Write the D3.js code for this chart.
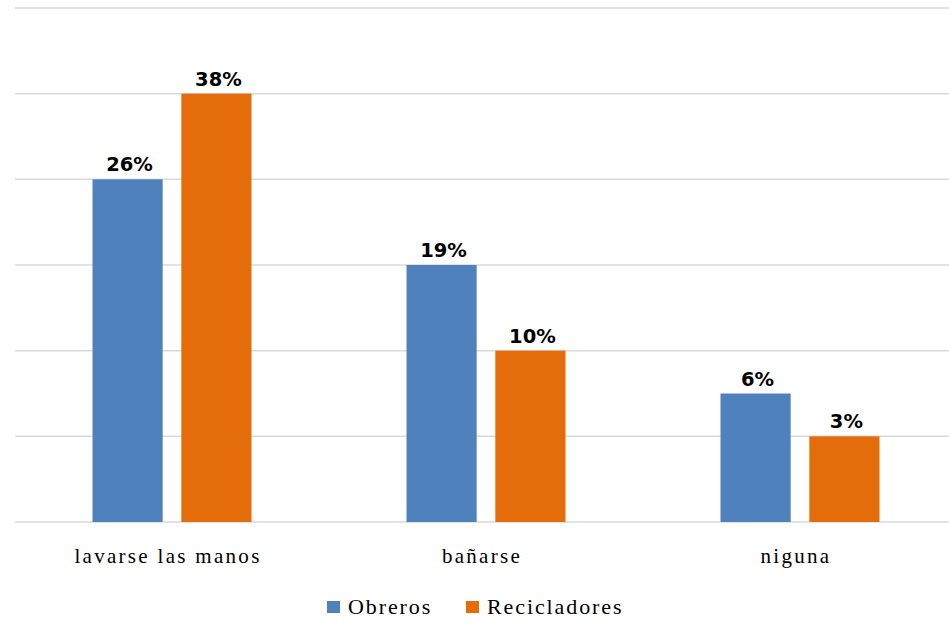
<!DOCTYPE html>
<html>
<head>
<meta charset="utf-8">
<script src="https://d3js.org/d3.v7.min.js"></script>
<style>
  body { margin: 0; background: #fff; }
  .lbl { font-family: "DejaVu Sans", Verdana, sans-serif; font-weight: bold; font-size: 19.5px; fill: #000; }
  .cat { font-family: "Liberation Serif", "Times New Roman", serif; font-size: 21px; letter-spacing: 2.3px; fill: #000; }
  .leg { font-family: "Liberation Serif", "Times New Roman", serif; font-size: 22px; letter-spacing: 1.9px; fill: #000; }
</style>
</head>
<body>
<svg id="chart" width="949" height="641"></svg>
<script>
// data
var categories = ["lavarse las manos", "bañarse", "niguna"];
var seriesNames = ["Obreros", "Recicladores"];
var obreros = [4, 3, 1.5];
var recicladores = [5, 2, 1];
var obrerosLabels = ["26%", "19%", "6%"];
var recicladoresLabels = ["38%", "10%", "3%"];
var yTicks = [0, 1, 2, 3, 4, 5, 6];
var colors = ["#4f81bd", "#e46c0a"];

var svg = d3.select("#chart");
var plotLeft = 15, plotRight = 957, plotTop = 8, plotBottom = 522;

var x = d3.scaleBand().domain(categories).range([plotLeft, plotRight]).paddingInner(0).paddingOuter(0);
var xs = d3.scaleBand().domain(seriesNames).range([77.5, x.bandwidth() - 77.5]).paddingInner(0.21);
var y = d3.scaleLinear().domain([0, 6]).range([plotBottom, plotTop]);

// grid
svg.append("g").selectAll("line")
  .data(yTicks)
  .enter().append("line")
  .attr("x1", plotLeft).attr("x2", 949)
  .attr("y1", function(d) { return y(d); })
  .attr("y2", function(d) { return y(d); })
  .attr("stroke", "#d9d9d9")
  .attr("stroke-width", 1.5);

var rows = categories.map(function(c, i) {
  return { cat: c, vals: [
    { s: seriesNames[0], v: obreros[i], l: obrerosLabels[i] },
    { s: seriesNames[1], v: recicladores[i], l: recicladoresLabels[i] }
  ]};
});

var groups = svg.append("g").selectAll("g")
  .data(rows)
  .enter().append("g")
  .attr("transform", function(d) { return "translate(" + x(d.cat) + ",0)"; });

groups.selectAll("rect")
  .data(function(d) { return d.vals; })
  .enter().append("rect")
  .attr("x", function(d) { return xs(d.s); })
  .attr("width", xs.bandwidth())
  .attr("y", function(d) { return y(d.v); })
  .attr("height", function(d) { return y(0) - y(d.v); })
  .attr("fill", function(d, i) { return colors[i]; });

groups.selectAll("text")
  .data(function(d) { return d.vals; })
  .enter().append("text")
  .attr("class", "lbl")
  .attr("text-anchor", "middle")
  .attr("x", function(d) { return xs(d.s) + xs.bandwidth() / 2 + 2; })
  .attr("y", function(d) { return y(d.v) - 8; })
  .text(function(d) { return d.l; });

// category labels
svg.append("g").selectAll("text")
  .data(categories)
  .enter().append("text")
  .attr("class", "cat")
  .attr("text-anchor", "middle")
  .attr("x", function(d) { return x(d) + x.bandwidth() / 2 - 4; })
  .attr("y", 563)
  .text(function(d) { return d; });

// legend
var legX = [327, 466];
var leg = svg.append("g").selectAll("g")
  .data(seriesNames)
  .enter().append("g")
  .attr("transform", function(d, i) { return "translate(" + legX[i] + ",601)"; });
leg.append("rect").attr("width", 13).attr("height", 12)
  .attr("fill", function(d, i) { return colors[i]; });
leg.append("text").attr("class", "leg").attr("x", 21).attr("y", 13)
  .text(function(d) { return d; });
</script>
</body>
</html>
